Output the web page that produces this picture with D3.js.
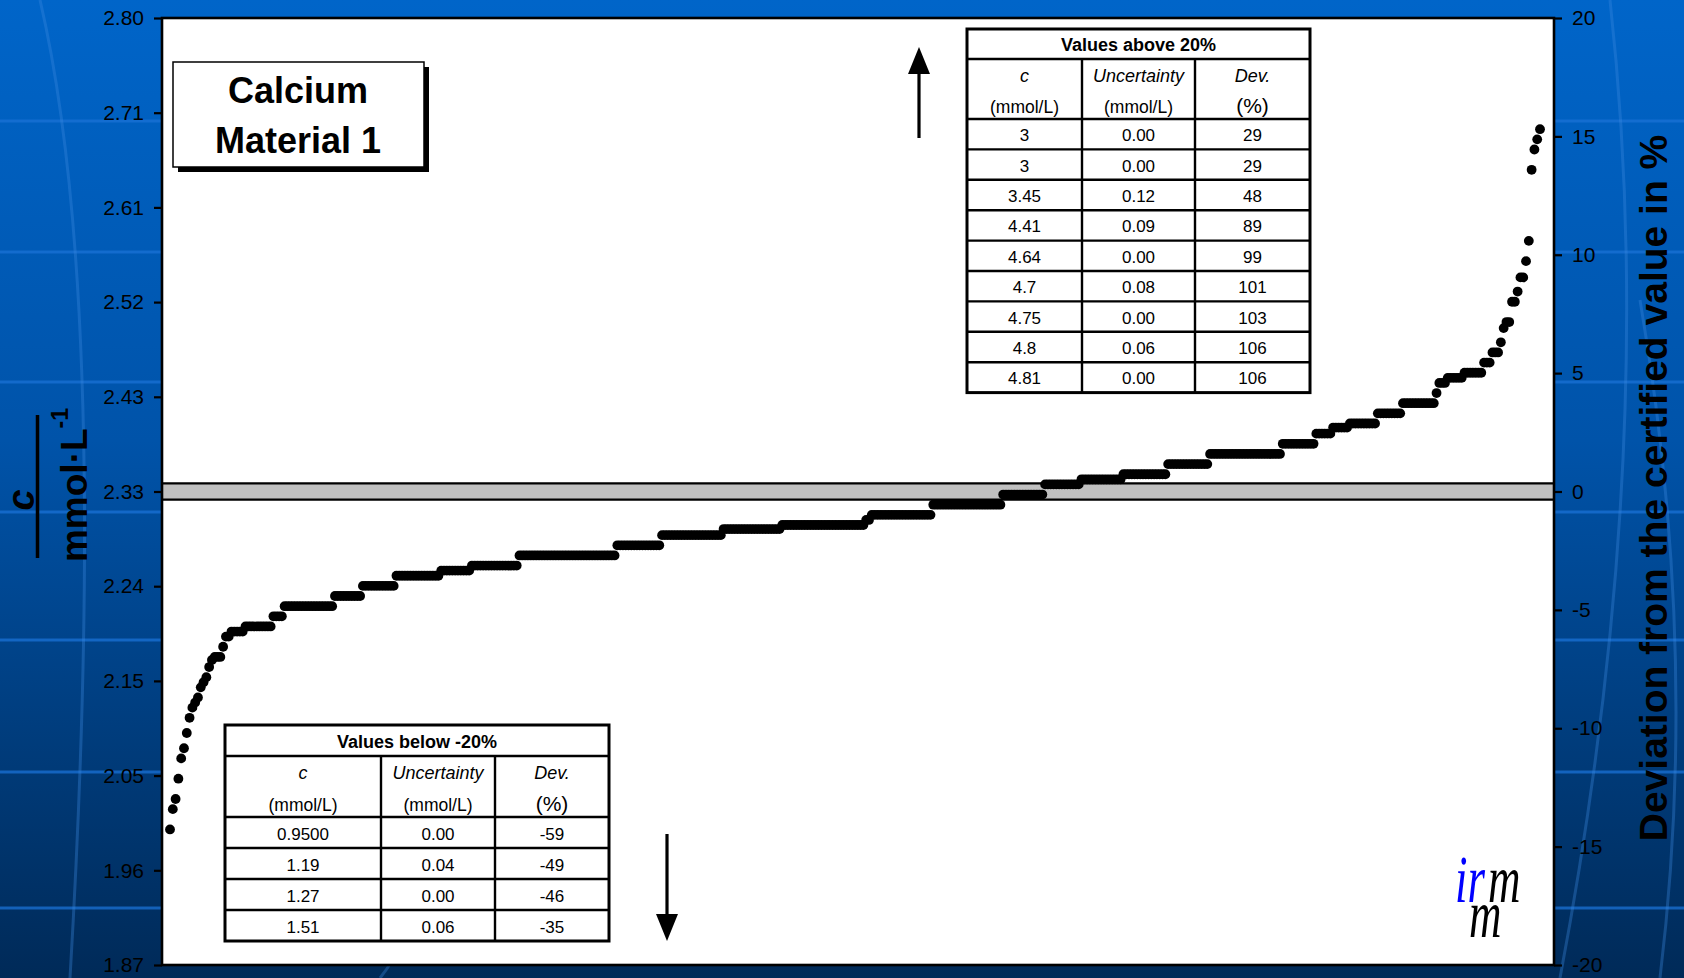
<!DOCTYPE html>
<html>
<head>
<meta charset="utf-8">
<script src="https://cdn.jsdelivr.net/npm/d3@7"></script>
<style>
  html, body { margin: 0; padding: 0; background: #0052a8; }
  svg { display: block; font-family: "Liberation Sans", Arial, sans-serif; }
</style>
</head>
<body>
<svg width="1684" height="978"></svg>
<script>
// Certified value and expanded uncertainty (mmol/L)
const certified = 2.333
const certifiedU = 0.008

// Reported concentrations (mmol/L), sorted, with the number of labs at each level
const levels = [
  2.00, 2.02, 2.03, 2.05, 2.07, 2.08, 2.095, 2.11, 2.12, 2.125, 2.13, 2.14, 2.145, 2.15, 2.16, 2.167,
  2.17, 2.18, 2.19,
  2.195, 2.20, 2.21, 2.22, 2.23, 2.24, 2.25, 2.255, 2.26, 2.27, 2.28, 2.29, 2.296, 2.30, 2.305,
  2.31, 2.32, 2.33, 2.34, 2.345, 2.35, 2.36, 2.37, 2.38, 2.39, 2.396, 2.40, 2.41, 2.42,
  2.43, 2.44, 2.445, 2.45, 2.46, 2.47, 2.48, 2.494, 2.50, 2.52, 2.53, 2.544, 2.56, 2.58,
  2.65, 2.67, 2.68, 2.69
]
const counts = [
  1, 1, 1, 1, 1, 1, 1, 1, 1, 1, 1, 1, 1, 1, 1, 1,
  3, 1, 2,
  5, 10, 4, 18, 10, 12, 16, 11, 17, 35, 16, 22, 21, 30, 2,
  22, 25, 15, 13, 15, 16, 15, 26, 12, 6, 6, 10, 9, 12,
  1, 3, 6, 7, 3, 3, 1, 1, 2, 2, 1, 2, 1, 1,
  1, 1, 1, 1
]

// Axis ticks
const leftTickPct = [-20, -16, -12, -8, -4, 0, 4, 8, 12, 16, 20]
const leftTickLabels = ["1.87", "1.96", "2.05", "2.15", "2.24", "2.33", "2.43", "2.52", "2.61", "2.71", "2.80"]
const rightTicks = [-20, -15, -10, -5, 0, 5, 10, 15, 20]

// Outlier tables
const headerTop = ["c", "Uncertainty", "Dev."]
const headerBottom = ["(mmol/L)", "(mmol/L)", "(%)"]
const aboveC = ["3", "3", "3.45", "4.41", "4.64", "4.7", "4.75", "4.8", "4.81"]
const aboveU = ["0.00", "0.00", "0.12", "0.09", "0.00", "0.08", "0.00", "0.06", "0.00"]
const aboveDev = ["29", "29", "48", "89", "99", "101", "103", "106", "106"]
const belowC = ["0.9500", "1.19", "1.27", "1.51"]
const belowU = ["0.00", "0.04", "0.00", "0.06"]
const belowDev = ["-59", "-49", "-46", "-35"]

// Expand levels into one value per lab
let values = []
levels.forEach((v, i) => { for (let k = 0; k < counts[i]; k++) values.push(v) })

const W = 1684, H = 978
const margin = { left: 162, top: 18, right: 130, bottom: 13 }
const w = W - margin.left - margin.right
const h = H - margin.top - margin.bottom

const svg = d3.select('svg')

// Background
const defs = svg.append('defs')
const grad = defs.append('linearGradient')
  .attr('id', 'bg').attr('x1', 0).attr('y1', 0).attr('x2', 0).attr('y2', 1)
grad.append('stop').attr('offset', 0).attr('stop-color', '#0065c9')
grad.append('stop').attr('offset', 0.45).attr('stop-color', '#0053a9')
grad.append('stop').attr('offset', 1).attr('stop-color', '#002a58')

svg.append('rect').attr('width', W).attr('height', H).attr('fill', 'url(#bg)')

const bands = [121, 252, 382, 512, 640, 772, 908]
svg.selectAll('line.band')
  .data(bands)
  .enter()
  .append('line')
  .attr('x1', 0).attr('x2', W)
  .attr('y1', d => d).attr('y2', d => d)
  .attr('stroke', '#1a72d6').attr('stroke-opacity', 0.75).attr('stroke-width', 3)

const arcs = [
  "M 40 0 Q 110 300 70 978",
  "M 1610 0 Q 1660 450 1560 978",
  "M 1640 300 Q 1700 650 1660 978",
  "M 380 978 Q 395 960 400 940"
]
svg.selectAll('path.arc')
  .data(arcs)
  .enter()
  .append('path')
  .attr('d', d => d)
  .attr('fill', 'none')
  .attr('stroke', '#3d8ae0').attr('stroke-opacity', 0.35).attr('stroke-width', 3)

// Scales
const yPct = d3.scaleLinear().domain([-20, 20]).range([h, 0])
const yConc = d3.scaleLinear().domain([certified * 0.8, certified * 1.2]).range([h, 0])
const x = d3.scaleLinear().domain([0, values.length - 1]).range([8, w - 14])

const g = svg.append('g').attr('transform', `translate(${margin.left},${margin.top})`)

// Plot area
g.append('rect').attr('width', w).attr('height', h).attr('fill', '#ffffff')

// Certified value band
g.append('rect')
  .attr('x', 0).attr('width', w)
  .attr('y', yConc(certified + certifiedU))
  .attr('height', yConc(certified - certifiedU) - yConc(certified + certifiedU))
  .attr('fill', '#c0c0c0')
g.selectAll('line.cert')
  .data([certified + certifiedU, certified - certifiedU])
  .enter()
  .append('line')
  .attr('x1', 0).attr('x2', w)
  .attr('y1', d => yConc(d)).attr('y2', d => yConc(d))
  .attr('stroke', '#000').attr('stroke-width', 2.2)

// Lab results
g.selectAll('circle.lab')
  .data(values)
  .enter()
  .append('circle')
  .attr('class', 'lab')
  .attr('cx', (d, i) => x(i))
  .attr('cy', d => yConc(d))
  .attr('r', 4.9)
  .attr('fill', '#000')

// Frame
g.append('rect').attr('width', w).attr('height', h)
  .attr('fill', 'none').attr('stroke', '#000').attr('stroke-width', 2.6)

// Axes
const leftAxis = d3.axisLeft(yPct)
  .tickValues(leftTickPct)
  .tickFormat((d, i) => leftTickLabels[i])
  .tickSize(8).tickSizeOuter(0).tickPadding(10)
const rightAxis = d3.axisRight(yPct)
  .tickValues(rightTicks)
  .tickFormat(d => String(d))
  .tickSize(8).tickSizeOuter(0).tickPadding(10)

const la = g.append('g').call(leftAxis)
const ra = g.append('g').attr('transform', `translate(${w},0)`).call(rightAxis)
;[la, ra].forEach(a => {
  a.select('.domain').remove()
  a.selectAll('line').attr('stroke', '#000').attr('stroke-width', 2.2)
  a.selectAll('text')
    .attr('fill', '#000')
    .style('font-size', '21px')
    .style('font-family', '"Liberation Sans", Arial, sans-serif')
})

// Left axis title: c / mmol·L-1
const lt = svg.append('g').attr('transform', 'translate(0,487) rotate(-90)')
lt.append('text')
  .attr('x', -13).attr('y', 34)
  .attr('text-anchor', 'middle')
  .style('font-size', '38px').style('font-weight', 'bold').style('font-style', 'italic')
  .text('c')
lt.append('line')
  .attr('x1', -71).attr('x2', 72).attr('y1', 37.5).attr('y2', 37.5)
  .attr('stroke', '#000').attr('stroke-width', 3.5)
const unit = lt.append('text')
  .attr('x', 2).attr('y', 87)
  .attr('text-anchor', 'middle')
  .style('font-size', '37px').style('font-weight', 'bold')
unit.append('tspan').text('mmol·L')
unit.append('tspan').attr('dy', -19).style('font-size', '23px').text('-1')

// Right axis title
svg.append('text')
  .attr('transform', 'translate(1667,488) rotate(-90)')
  .attr('text-anchor', 'middle')
  .style('font-size', '39px').style('font-weight', 'bold')
  .attr('fill', '#000')
  .text('Deviation from the certified value in %')

// Title box
svg.append('rect').attr('x', 178).attr('y', 67).attr('width', 251).attr('height', 105).attr('fill', '#000')
svg.append('rect').attr('x', 173).attr('y', 62).attr('width', 251).attr('height', 105)
  .attr('fill', '#fff').attr('stroke', '#000').attr('stroke-width', 1.5)
svg.selectAll('text.title')
  .data(['Calcium', 'Material 1'])
  .enter()
  .append('text')
  .attr('x', 298)
  .attr('y', (d, i) => 103 + i * 50)
  .attr('text-anchor', 'middle')
  .style('font-size', '36px').style('font-weight', 'bold')
  .text(d => d)

// Tables
function drawTable(x0, y0, colW, titleH, headH, rowH, title, cols) {
  const t = svg.append('g').attr('transform', `translate(${x0},${y0})`)
  const tw = d3.sum(colW)
  const nRows = cols[0].length
  const th = titleH + headH + rowH * nRows
  const colX = [0]
  colW.forEach((cw, i) => colX.push(colX[i] + cw))

  t.append('rect').attr('width', tw).attr('height', th).attr('fill', '#fff')

  const hLines = [titleH, titleH + headH].concat(d3.range(1, nRows).map(r => titleH + headH + r * rowH))
  t.selectAll('line.h').data(hLines).enter().append('line')
    .attr('x1', 0).attr('x2', tw).attr('y1', d => d).attr('y2', d => d)
    .attr('stroke', '#000').attr('stroke-width', 2.4)
  t.selectAll('line.v').data(colX.slice(1, -1)).enter().append('line')
    .attr('x1', d => d).attr('x2', d => d).attr('y1', titleH).attr('y2', th)
    .attr('stroke', '#000').attr('stroke-width', 2.4)
  t.append('rect').attr('width', tw).attr('height', th)
    .attr('fill', 'none').attr('stroke', '#000').attr('stroke-width', 3)

  t.append('text')
    .attr('x', tw / 2).attr('y', titleH / 2 + 7)
    .attr('text-anchor', 'middle')
    .style('font-size', '18px').style('font-weight', 'bold')
    .text(title)

  headerTop.forEach((s, i) => {
    t.append('text')
      .attr('x', colX[i] + colW[i] / 2).attr('y', titleH + 23)
      .attr('text-anchor', 'middle')
      .style('font-size', '18px').style('font-style', 'italic')
      .text(s)
    t.append('text')
      .attr('x', colX[i] + colW[i] / 2).attr('y', titleH + headH - 6)
      .attr('text-anchor', 'middle')
      .style('font-size', i === 2 ? '21px' : '17.5px')
      .text(headerBottom[i])
  })

  cols.forEach((col, c) => {
    t.selectAll(null).data(col).enter().append('text')
      .attr('x', colX[c] + colW[c] / 2)
      .attr('y', (d, r) => titleH + headH + r * rowH + rowH / 2 + 7)
      .attr('text-anchor', 'middle')
      .style('font-size', '17px')
      .text(d => d)
  })
}

drawTable(967, 29, [115, 113, 115], 30, 60, 30.4, 'Values above 20%', [aboveC, aboveU, aboveDev])
drawTable(225, 725, [156, 114, 114], 31, 61, 31, 'Values below -20%', [belowC, belowU, belowDev])

// Arrows
function arrow(x0, yFrom, yTip) {
  const dir = yTip < yFrom ? -1 : 1
  svg.append('line')
    .attr('x1', x0).attr('x2', x0).attr('y1', yFrom).attr('y2', yTip - dir * 20)
    .attr('stroke', '#000').attr('stroke-width', 3.2)
  svg.append('path')
    .attr('d', `M${x0},${yTip} L${x0 - 11},${yTip - dir * 27} L${x0 + 11},${yTip - dir * 27} Z`)
    .attr('fill', '#000')
}
arrow(919, 138, 47)
arrow(667, 834, 941)

// Logo: one text element, blue "ir" with the two black "m"
const logo = svg.append('text')
  .attr('transform', 'translate(1455,902) scale(1,1.5)')
  .style('font-family', '"Liberation Serif", "DejaVu Serif", serif')
  .style('font-style', 'italic')
  .style('font-size', '45px')
logo.append('tspan').attr('fill', '#0000ff').text('ir')
logo.append('tspan').attr('x', 33).attr('fill', '#000').text('m')
logo.append('tspan').attr('x', 14).attr('dy', 23).attr('fill', '#000').text('m')
</script>
</body>
</html>
